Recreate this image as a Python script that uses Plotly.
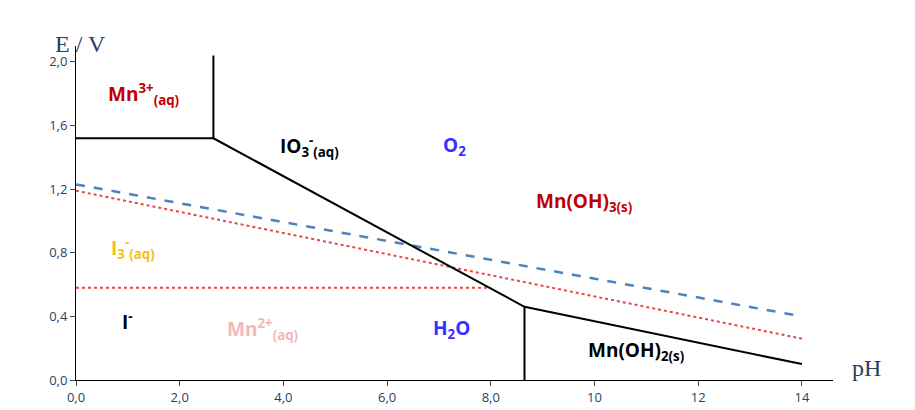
import plotly.graph_objects as go

# black frontier lines
black_x = [0, 2.65, 2.65, None, 2.65, 8.65, 14, None, 8.65, 8.65]
black_y = [1.52, 1.52, 2.04, None, 1.52, 0.46, 0.10, None, 0.46, 0.0]
# water lines (blue dashed)
water_x = [0, 14]
water_y = [1.23, 0.40]
# iodine lines (red dotted)
iod_x = [0, 14, None, 0, 8.0]
iod_y = [1.19, 0.26, None, 0.58, 0.58]

xticks = [0, 2, 4, 6, 8, 10, 12, 14]
xlabels = ["0,0", "2,0", "4,0", "6,0", "8,0", "10", "12", "14"]
yticks = [0, 0.4, 0.8, 1.2, 1.6, 2.0]
ylabels = ["0,0", "0,4", "0,8", "1,2", "1,6", "2,0"]

fig = go.Figure()
fig.add_trace(go.Scatter(x=water_x, y=water_y, mode="lines",
                         line=dict(color="#4f81bd", width=2.5, dash="dash")))
fig.add_trace(go.Scatter(x=iod_x, y=iod_y, mode="lines",
                         line=dict(color="#e8474a", width=2, dash="dot")))
fig.add_trace(go.Scatter(x=black_x, y=black_y, mode="lines",
                         line=dict(color="black", width=2)))

labels = [
    (1.3, 1.8, "<b>Mn<sup>3+</sup><sub>(aq)</sub></b>", "#c00000"),
    (4.5, 1.47, "<b>IO<sub>3</sub><sup>-</sup><sub>(aq)</sub></b>", "black"),
    (7.3, 1.47, "<b>O<sub>2</sub></b>", "#3333ff"),
    (9.8, 1.12, "<b>Mn(OH)<sub>3(s)</sub></b>", "#c00000"),
    (1.1, 0.83, "<b>I<sub>3</sub><sup>-</sup><sub>(aq)</sub></b>", "#f0c020"),
    (1.0, 0.37, "<b>I<sup>-</sup></b>", "black"),
    (3.6, 0.32, "<b>Mn<sup>2+</sup><sub>(aq)</sub></b>", "#f4b8b8"),
    (7.25, 0.32, "<b>H<sub>2</sub>O</b>", "#3333ff"),
    (10.8, 0.18, "<b>Mn(OH)<sub>2(s)</sub></b>", "black"),
]
for x, y, t, c in labels:
    fig.add_annotation(x=x, y=y, text=t, showarrow=False,
                       font=dict(size=19, color=c, family="Open Sans"))

fig.add_annotation(xref="paper", yref="paper", x=-0.03, y=1.05, text="E / V",
                   showarrow=False, font=dict(size=24, family="Liberation Serif"))
fig.add_annotation(xref="paper", yref="paper", x=1.066, y=-0.01, text="pH",
                   showarrow=False, font=dict(size=24, family="Liberation Serif"))

fig.update_xaxes(range=[0, 14.6], tickvals=xticks, ticktext=xlabels, showgrid=False,
                 zeroline=False, showline=True, linecolor="black", ticks="outside",
                 tickfont=dict(size=13, family="Open Sans"))
fig.update_yaxes(range=[0, 2.1], tickvals=yticks, ticktext=ylabels, showgrid=False,
                 zeroline=False, showline=True, linecolor="black", ticks="outside",
                 tickfont=dict(size=13, family="Open Sans"))
fig.update_layout(width=915, height=410, showlegend=False,
                  plot_bgcolor="white", paper_bgcolor="white",
                  margin=dict(l=68, r=90, t=38, b=34))
fig.write_html("out.html")
